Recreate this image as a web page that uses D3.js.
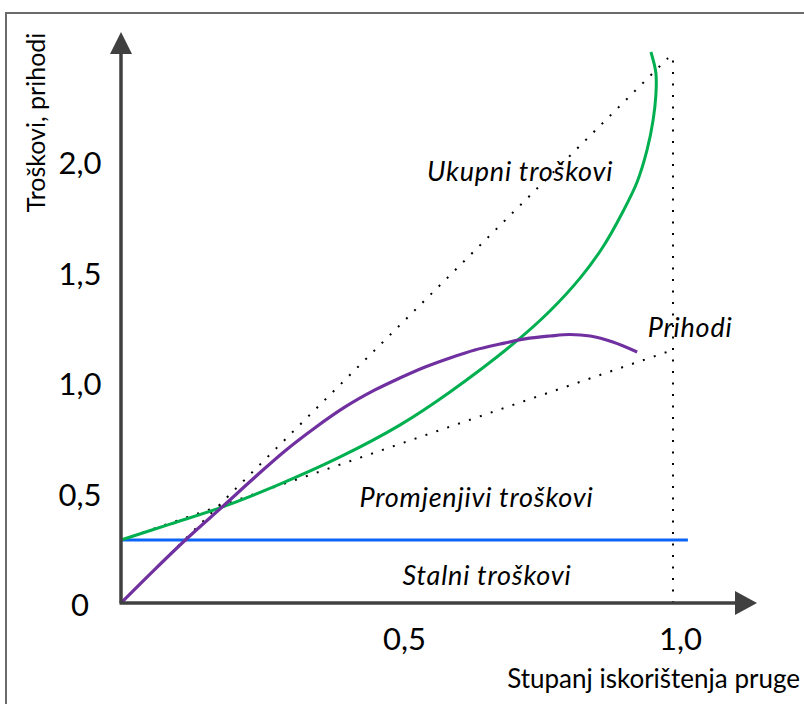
<!DOCTYPE html>
<html>
<head>
<meta charset="utf-8">
<script src="https://cdn.jsdelivr.net/npm/d3@7"></script>
<style>
  html, body { margin: 0; padding: 0; background: #fff; }
  svg { display: block; }
  text { font-family: Lato, "Open Sans", sans-serif; fill: #000; }
</style>
</head>
<body>
<svg id="chart" width="804" height="704"></svg>
<script>
// ---- data ----
const xTickValues = [0.5, 1.0];
const xTickLabels = ["0,5", "1,0"];
const yTickValues = [0, 0.5, 1.0, 1.5, 2.0];
const yTickLabels = ["0", "0,5", "1,0", "1,5", "2,0"];

// Ukupni troškovi (total costs) curve, [x, y]
const totalCostX = [0, 0.089, 0.183, 0.288, 0.397, 0.505, 0.596, 0.717, 0.777, 0.832, 0.873, 0.908, 0.935, 0.953, 0.964, 0.969, 0.969, 0.960];
const totalCostY = [0.285, 0.357, 0.434, 0.538, 0.661, 0.805, 0.955, 1.186, 1.321, 1.471, 1.611, 1.765, 1.905, 2.050, 2.186, 2.299, 2.398, 2.493];

// Prihodi (revenue) curve
const revenueX = [0, 0.060, 0.120, 0.183, 0.243, 0.297, 0.351, 0.406, 0.460, 0.505, 0.551, 0.596, 0.641, 0.687, 0.732, 0.777, 0.813, 0.850, 0.891, 0.935];
const revenueY = [0, 0.149, 0.293, 0.434, 0.570, 0.688, 0.792, 0.887, 0.964, 1.018, 1.068, 1.109, 1.145, 1.172, 1.195, 1.208, 1.215, 1.208, 1.181, 1.136];

// Stalni troškovi (fixed costs)
const fixedCostX = [0, 1.027];
const fixedCostY = [0.285, 0.285];

// dotted guide lines
const chordTotalX = [0, 0.991];
const chordTotalY = [0, 2.466];
const chordVarX = [0, 0.989];
const chordVarY = [0.285, 1.136];
const capacityX = [1.0, 1.0];
const capacityY = [0, 2.46];

// annotations (centre x, baseline y)
const labelTexts = ["Ukupni troškovi", "Prihodi", "Promjenjivi troškovi", "Stalni troškovi"];
const labelX = [0.723, 1.031, 0.644, 0.663];
const labelY = [1.910, 1.204, 0.434, 0.081];

const xTitle = "Stupanj iskorištenja pruge";
const yTitle = "Troškovi, prihodi";

// ---- drawing ----
const svg = d3.select("#chart");
const x = d3.scaleLinear().domain([0, 1]).range([121, 673]);
const y = d3.scaleLinear().domain([0, 2]).range([603, 161]);

const zip = (xs, ys) => xs.map((v, i) => [v, ys[i]]);
const line = d3.line().x(d => x(d[0])).y(d => y(d[1]));
const smooth = d3.line().x(d => x(d[0])).y(d => y(d[1])).curve(d3.curveCatmullRom.alpha(0.5));

// frame
svg.append("rect").attr("x", 6).attr("y", 13).attr("width", 900).attr("height", 800)
  .attr("fill", "none").attr("stroke", "#6b6b6b").attr("stroke-width", 2);

// dotted lines
[[chordTotalX, chordTotalY], [chordVarX, chordVarY], [capacityX, capacityY]].forEach(([xs, ys]) => {
  svg.append("path").attr("d", line(zip(xs, ys)))
    .attr("fill", "none").attr("stroke", "#000").attr("stroke-width", 2)
    .attr("stroke-dasharray", "2 9.5");
});

// fixed costs
svg.append("path").attr("d", line(zip(fixedCostX, fixedCostY)))
  .attr("fill", "none").attr("stroke", "#0a64f5").attr("stroke-width", 3);

// total costs
svg.append("path").attr("d", smooth(zip(totalCostX, totalCostY)))
  .attr("fill", "none").attr("stroke", "#00b050").attr("stroke-width", 3);

// revenue
svg.append("path").attr("d", smooth(zip(revenueX, revenueY)))
  .attr("fill", "none").attr("stroke", "#7030a0").attr("stroke-width", 3.2);

// axes lines + arrows
const axisColor = "#404040";
svg.append("line").attr("x1", x(0)).attr("y1", y(0)).attr("x2", x(0)).attr("y2", 50)
  .attr("stroke", axisColor).attr("stroke-width", 3.5);
svg.append("path").attr("d", `M${x(0)},32 L${x(0) - 11},54 L${x(0) + 11},54 Z`).attr("fill", axisColor);
svg.append("line").attr("x1", x(0) - 1.5).attr("y1", y(0)).attr("x2", 738).attr("y2", y(0))
  .attr("stroke", axisColor).attr("stroke-width", 3.5);
svg.append("path").attr("d", `M757,${y(0)} L735,${y(0) - 12} L735,${y(0) + 12} Z`).attr("fill", axisColor);

// tick labels via d3 axes
const yAxis = d3.axisLeft(y).tickValues(yTickValues)
  .tickFormat((d, i) => yTickLabels[i]).tickSize(0).tickPadding(41);
const gy = svg.append("g").attr("transform", `translate(${x(0)},3)`).call(yAxis);
gy.select(".domain").remove();
gy.selectAll("text").attr("text-anchor", "middle")
  .style("font-family", "Lato, 'Open Sans', sans-serif").style("font-size", "31px").attr("fill", "#000");

const xAxis = d3.axisBottom(x).tickValues(xTickValues)
  .tickFormat((d, i) => xTickLabels[i]).tickSize(0).tickPadding(25);
const gx = svg.append("g").attr("transform", `translate(7,${y(0)})`).call(xAxis);
gx.select(".domain").remove();
gx.selectAll("text").style("font-family", "Lato, 'Open Sans', sans-serif").style("font-size", "31px").attr("fill", "#000");

// annotations
labelTexts.forEach((t, i) => {
  svg.append("text").attr("x", x(labelX[i])).attr("y", y(labelY[i]))
    .attr("text-anchor", "middle")
    .style("font-style", "italic").style("font-size", "27px").style("letter-spacing", "0.8px").text(t);
});

// axis titles
svg.append("text").attr("x", 800).attr("y", 688).attr("text-anchor", "end")
  .style("font-size", "26px").text(xTitle);
svg.append("text").attr("transform", "translate(45,122.5) rotate(-90)")
  .attr("text-anchor", "middle")
  .style("font-size", "25px").text(yTitle);
</script>
</body>
</html>
